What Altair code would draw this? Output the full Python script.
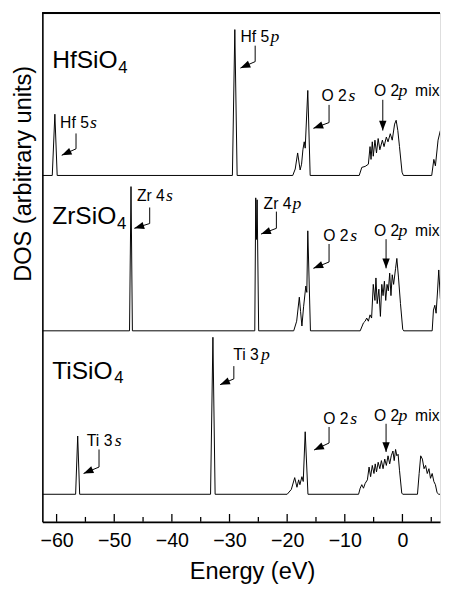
import math
import altair as alt
import pandas as pd

# ---------------- scales / layout ----------------
X_DOMAIN = [-62.47, 6.52]
Y_DOMAIN = [0, 529]
W, H = 405, 518
SX = W / (X_DOMAIN[1] - X_DOMAIN[0])
SY = H / (Y_DOMAIN[1] - Y_DOMAIN[0])
SANS = "Liberation Sans"
SERIF = "Liberation Serif"

# ---------------- data ----------------
materials = ["HfSiO4", "ZrSiO4", "TiSiO4"]
baseline_offsets = [360.3, 198.7, 28.7]

hf_energy = [-62.47, -60.75, -60.3, -59.9, -29.5, -29.08, -28.68, -19.03, -18.6, -18.18,
             -17.75, -17.5, -17.27, -17.04, -16.87, -16.42, -16.01, -7.5, -7.05, -6.47,
             -5.91, -5.62, -5.45, -5.23, -5.06, -4.77, -4.5, -4.21, -3.92, -3.48,
             -3.19, -2.79, -2.5, -2.11, -1.77, -1.36, -1.09, -0.8, -0.51, -0.07,
             0.17, 5.08, 5.45, 5.72, 6.18, 6.58]
hf_dos = [0, 0, 63.7, 0, 0, 151.7, 0, 0, 6.7, 23.4,
          5.7, 11.7, 26.7, 35, 28.4, 88.4, 0, 0, 8.4, 9.4,
          11.7, 30, 16.7, 35, 20, 36.7, 23.4, 38.4, 26.7, 36.7,
          30, 40, 35, 43.4, 36.7, 53.4, 57.4, 46.7, 30, 3.4,
          0, 0, 16.7, 10, 36.7, 46.7]

zr_energy = [-62.47, -47.35, -47.09, -46.85, -25.62, -25.45, -25.33, -25.21, -24.94,
             -18.86, -18.35, -17.89, -17.67, -17.44, -17.15, -16.76, -16.59, -16.42, -15.96,
             -7.33, -6.76, -6.47, -6.2, -5.91, -5.62, -5.35, -5.06, -4.77, -4.6,
             -4.38, -4.09, -3.82, -3.58, -3.36, -3.13, -2.9, -2.67, -2.45, -2.21,
             -1.99, -1.77, -1.53, -1.19, -0.97, -0.68, -0.34, 0.05, 0.22, 5.16,
             5.38, 5.62, 5.84, 6.06, 6.3, 6.58]
zr_dos = [0, 0, 150, 0, 0, 138.3, 95, 136.3, 0,
          0, 10, 35, 20, 5, 25, 46.6, 40, 104, 0,
          0, 8.3, 10, 13.3, 10, 16.6, 13.3, 48.3, 31.6, 55,
          28.3, 43.3, 15, 48.3, 36.6, 51.6, 31.6, 48.3, 41.6, 60,
          36.6, 58.3, 48.3, 65, 75.3, 55, 28.3, 1.6, 0, 0,
          21.6, 26.6, 18.3, 38.3, 63.3, 33.3]

ti_energy = [-62.47, -56.7, -56.34, -56.0, -33.29, -32.88, -32.5,
             -20.0, -19.28, -18.69, -18.3, -18.01, -17.79, -17.44, -17.21, -16.87, -16.39,
             -7.61, -7.33, -7.05, -6.76, -6.47, -6.08, -5.79, -5.52, -5.23, -4.94,
             -4.72, -4.5, -4.21, -3.92, -3.65, -3.36, -3.07, -2.79, -2.5, -2.21,
             -1.94, -1.65, -1.43, -1.19, -0.97, -0.75, -0.51, -0.12, 0.05, 2.61,
             2.9, 3.17, 3.46, 3.75, 4.02, 4.31, 4.6, 4.87, 5.16, 5.45,
             5.72, 6.01, 6.3, 6.52]
ti_dos = [0, 0, 60.6, 0, 0, 163.3, 0,
          0, 5, 17.3, 7.3, 15, 10, 18.3, 13.3, 65, 0,
          0, 6.3, 10, 6.3, 11.3, 15, 28.3, 18.3, 30, 21.6,
          31.6, 23.3, 33.3, 26.6, 35, 26.6, 36.6, 30, 40, 31.6,
          40, 45, 35, 46.6, 40, 41.6, 25, 1.3, 0, 0,
          21.6, 40, 36.6, 26.6, 30, 21.6, 26.6, 16.6, 21.6, 13.3,
          10, 1.6, 0, 0]

major_ticks = [-60, -50, -40, -30, -20, -10, 0]
minor_ticks = [-55, -45, -35, -25, -15, -5, 5]

# material labels (formula + subscript)
mat_text = ["HfSiO", "ZrSiO", "TiSiO"]
mat_e = [-60.77, -60.77, -60.77]
mat_d = [472, 310, 149]
mat_sub_text = ["4", "4", "4"]
mat_sub_e = [-49.3, -49.52, -50.0]
mat_sub_d = [467, 305, 144]

# peak annotations: sans part, italic orbital letter, optional "mix"
ann_main_text = ["Hf 5", "Hf 5", "O 2", "O 2", "Zr 4", "Zr 4", "O 2", "O 2", "Ti 3", "Ti 3", "O 2", "O 2"]
ann_main_e = [-59.39, -28.11, -14.04, -4.94, -46.06, -24.09, -13.75, -4.94, -54.75, -29.37, -13.75, -4.94]
ann_main_d = [410, 499.5, 437.7, 442.5, 333.7, 325.3, 292, 297, 78.7, 168.7, 102, 105.3]
ann_ital_text = ["s", "p", "s", "p", "s", "p", "s", "p", "s", "p", "s", "p"]
ann_ital_e = [-54.2, -22.9, -9.36, -0.68, -41.03, -19.06, -9.07, -0.68, -49.9, -24.52, -9.07, -0.68]
mix_text = ["mix", "mix", "mix"]
mix_e = [2.2, 2.2, 2.2]
mix_d = [442.5, 297, 105.3]

# arrows: start -> corner -> tip
arr_start_e = [-56.63, -25.55, -12.73, -3.41, -43.85, -21.87, -12.73, -2.84, -52.64, -29.25, -12.73, -2.84]
arr_start_d = [404, 495.3, 433.7, 439, 327, 322.7, 289, 294, 75.3, 162, 98.7, 102]
arr_corner_e = [-56.63, -25.55, -12.73, -3.41, -43.85, -21.87, -12.73, -2.84, -52.64, -29.25, -12.73, -2.84]
arr_corner_d = [388, 478.7, 415.3, 439, 310.3, 305.3, 270.3, 294, 57, 148.7, 82, 102]
arr_tip_e = [-59.11, -28.11, -15.45, -3.41, -46.51, -24.53, -15.45, -2.84, -55.32, -31.64, -15.33, -2.84]
arr_tip_d = [381.3, 472, 409.3, 407, 305.3, 299.3, 263.7, 263.7, 50.3, 142.7, 74.7, 72.7]

# ---------------- build tables ----------------
rows = []
for mat, off, es, ds in zip(materials, baseline_offsets,
                            [hf_energy, zr_energy, ti_energy], [hf_dos, zr_dos, ti_dos]):
    for i, (e, d) in enumerate(zip(es, ds)):
        rows.append({"E": e, "D": d + off, "mat": mat, "o": i})
curves = pd.DataFrame(rows)

arrow_rows, head_rows = [], []
R = 5.0
for k in range(len(arr_tip_e)):
    pts = [(arr_start_e[k], arr_start_d[k]), (arr_corner_e[k], arr_corner_d[k]),
           (arr_tip_e[k], arr_tip_d[k])]
    for i, (e, d) in enumerate(pts):
        arrow_rows.append({"E": e, "D": d, "a": k, "o": i})
    dx = (arr_tip_e[k] - arr_corner_e[k]) * SX
    dy = -(arr_tip_d[k] - arr_corner_d[k]) * SY
    n = math.hypot(dx, dy)
    ux, uy = dx / n, dy / n
    ang = math.degrees(math.atan2(dx, -dy)) % 360
    head_rows.append({"E": arr_tip_e[k] - ux * R / SX,
                      "D": arr_tip_d[k] + uy * R / SY, "ang": ang})
arrows = pd.DataFrame(arrow_rows)
heads = pd.DataFrame(head_rows)

mat_df = pd.DataFrame({"E": mat_e, "D": mat_d, "t": mat_text})
sub_df = pd.DataFrame({"E": mat_sub_e, "D": mat_sub_d, "t": mat_sub_text})
main_df = pd.DataFrame({"E": ann_main_e, "D": ann_main_d, "t": ann_main_text})
ital_df = pd.DataFrame({"E": ann_ital_e, "D": ann_main_d, "t": ann_ital_text})
mix_df = pd.DataFrame({"E": mix_e, "D": mix_d, "t": mix_text})
major_df = pd.DataFrame({"E": major_ticks})
minor_df = pd.DataFrame({"E": minor_ticks})

xs = alt.Scale(domain=X_DOMAIN, nice=False, zero=False)
ys = alt.Scale(domain=Y_DOMAIN, nice=False, zero=False)

x_axis = alt.Axis(values=major_ticks, format="d", ticks=False, grid=False,
                  domainColor="black", domainWidth=1.6,
                  labelFont=SANS, labelFontSize=20, labelColor="black",
                  labelPadding=9, labelFlush=False, labelOverlap=False,
                  title="Energy (eV)", titleFont=SANS, titleFontSize=24,
                  titleFontWeight="normal", titleColor="black",
                  titleX=213.5, titleY=58, titleBaseline="alphabetic")
y_axis = alt.Axis(labels=False, ticks=False, grid=False,
                  domainColor="black", domainWidth=1.6,
                  title="DOS (arbitrary units)", titleFont=SANS, titleFontSize=24,
                  titleFontWeight="normal", titleColor="black",
                  titleX=-12, titleY=163, titleBaseline="alphabetic")

X = alt.X("E:Q", scale=xs, axis=x_axis)
Y = alt.Y("D:Q", scale=ys, axis=y_axis)

curve_layer = alt.Chart(curves).mark_line(color="black", strokeWidth=1, clip=True).encode(
    x=X, y=Y, detail="mat:N", order="o:Q")

top_line = alt.Chart(major_df).mark_rule(color="black", strokeWidth=1.6).encode(
    x=alt.value(0), x2=alt.value(W), y=alt.value(0))

major_tick_layer = alt.Chart(major_df).mark_rule(color="black", strokeWidth=1.3).encode(
    x=X, y=alt.value(H), y2=alt.value(H - 8))
minor_tick_layer = alt.Chart(minor_df).mark_rule(color="black", strokeWidth=1.3).encode(
    x=X, y=alt.value(H), y2=alt.value(H - 5))

arrow_layer = alt.Chart(arrows).mark_line(color="black", strokeWidth=1).encode(
    x=X, y=Y, detail="a:N", order="o:Q")
head_layer = alt.Chart(heads).mark_point(
    shape="M0,-1L0.75,1L-0.75,1Z", filled=True, color="black", opacity=1,
    size=100, strokeWidth=0).encode(
    x=X, y=Y, angle=alt.Angle("ang:Q", scale=None))


def text_layer(df, font, size, style="normal"):
    return alt.Chart(df).mark_text(align="left", baseline="alphabetic", font=font,
                                   fontSize=size, fontStyle=style, color="black").encode(
        x=X, y=Y, text="t:N")


chart = alt.layer(
    curve_layer, top_line, major_tick_layer, minor_tick_layer, arrow_layer, head_layer,
    text_layer(mat_df, SANS, 25), text_layer(sub_df, SANS, 17),
    text_layer(main_df, SANS, 16), text_layer(ital_df, SERIF, 18, "italic"),
    text_layer(mix_df, SANS, 16),
).properties(
    width=W, height=H, autosize="none",
    padding={"left": 35, "top": 0, "right": 1, "bottom": 62},
).configure_view(stroke=None).configure(background="white")

chart.save("out.html", embed_options={"renderer": "svg", "actions": False})
